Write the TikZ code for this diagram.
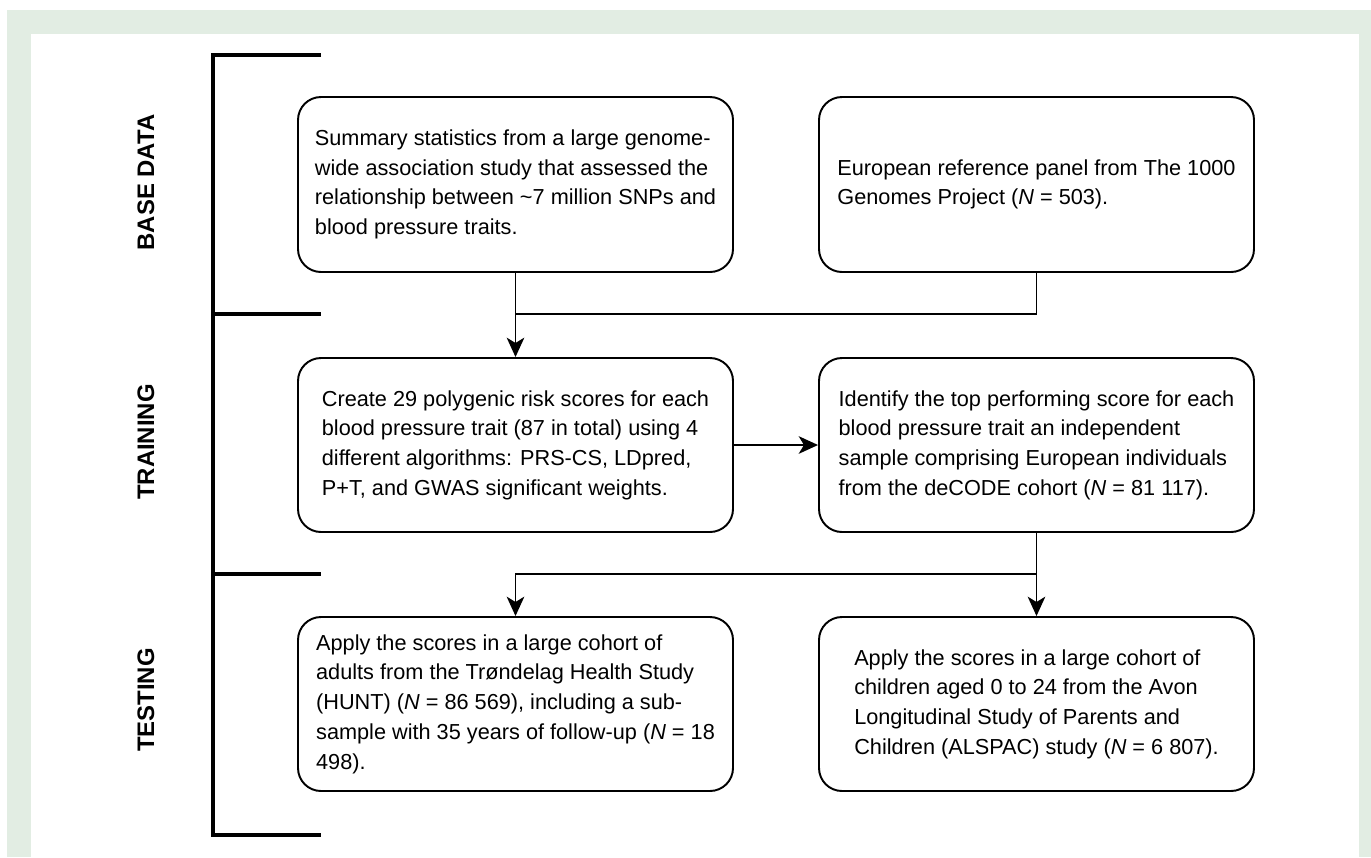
\documentclass[tikz,border=0pt]{standalone}
\usepackage{fontspec}
\setmainfont{Liberation Sans}
\usetikzlibrary{arrows.meta}

\definecolor{panelgreen}{HTML}{E2EDE3}

\tikzset{
  stagebox/.style={draw, line width=1.1pt, rounded corners=0.46cm, align=left,
    minimum width=8.7cm, minimum height=3.48cm,
    font=\fontsize{12.35}{16.9}\selectfont},
  phaselabel/.style={rotate=90, font=\fontsize{13.6}{15}\selectfont\bfseries},
  flow/.style={line width=1.1pt, -{Stealth[length=11, width=10, inset=3]}},
  bracketline/.style={line width=2.3pt}
}

\begin{document}
\begin{tikzpicture}
\useasboundingbox (0,0) rectangle (27.42,-17.14);
\fill[panelgreen] (0.14,-0.2) rectangle (27.42,-17.14);
\fill[white] (0.62,-0.68) rectangle (27.18,-17.14);

% bracket on the left
\draw[bracketline] (6.42,-1.1) -- (4.26,-1.1) -- (4.26,-16.7) -- (6.42,-16.7);
\draw[bracketline] (4.26,-6.28) -- (6.42,-6.28);
\draw[bracketline] (4.26,-11.48) -- (6.42,-11.48);

\node[phaselabel] (base) at (2.92,-3.65) {BASE DATA};
\node[phaselabel] (train) at (2.92,-8.84) {TRAINING};
\node[phaselabel] (test) at (2.92,-14.0) {TESTING};

% base data
\node[stagebox, minimum height=3.5cm] (sumstat) at (10.31,-3.69) {Summary statistics from a large genome-\\wide association study that assessed the\\relationship between \textasciitilde7 million SNPs and\\blood pressure traits.};
\node[stagebox, minimum height=3.5cm] (refpanel) at (20.73,-3.69) {European reference panel from The 1000\\Genomes Project (\textit{N} = 503).};

% training
\node[stagebox] (prscreate) at (10.31,-8.9) {Create 29 polygenic risk scores for each\\blood pressure trait (87 in total) using 4\\different algorithms: PRS-CS, LDpred,\\P+T, and GWAS significant weights.};
\node[stagebox] (topscore) at (20.73,-8.9) {Identify the top performing score for each\\blood pressure trait an independent\\sample comprising European individuals\\from the deCODE cohort (\textit{N} = 81 117).};

% testing
\node[stagebox] (hunt) at (10.31,-14.08) {Apply the scores in a large cohort of\\adults from the Trøndelag Health Study\\(HUNT) (\textit{N} = 86 569), including a sub-\\sample with 35 years of follow-up (\textit{N} = 18\\498).};
\node[stagebox] (alspac) at (20.73,-14.08) {Apply the scores in a large cohort of\\children aged 0 to 24 from the Avon\\Longitudinal Study of Parents and\\Children (ALSPAC) study (\textit{N} = 6 807).};

% connectors
\coordinate (merge) at (10.31,-6.28);
\coordinate (split) at (20.73,-11.48);
\draw[flow] (sumstat.south) -- (prscreate.north);
\draw[line width=1.1pt] (refpanel.south) |- (merge);
\draw[flow] (prscreate.east) -- (topscore.west);
\draw[flow] (topscore.south) -- (alspac.north);
\draw[flow] (split) -| (hunt.north);

\end{tikzpicture}
\end{document}
